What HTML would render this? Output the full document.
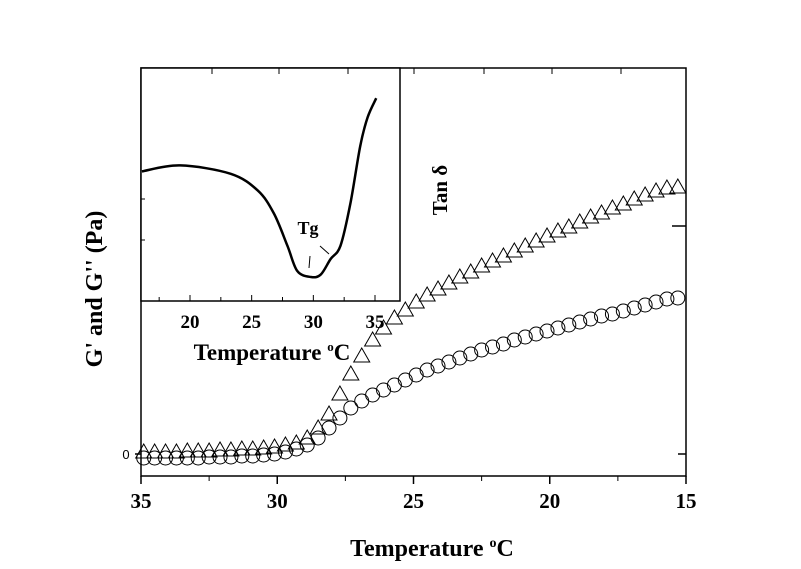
<!DOCTYPE html>
<html><head><meta charset="utf-8"><style>
html,body{margin:0;padding:0;background:#fff}
svg{display:block}
text{font-family:"Liberation Serif",serif;font-weight:bold;fill:#000}
</style></head><body>
<svg id="chart" width="801" height="569" viewBox="0 0 801 569" xmlns="http://www.w3.org/2000/svg">
<g id="main"></g>
<g id="inset"></g>
</svg>
<script>
// Main chart data (temperature in °C, moduli in arbitrary units)
const temps = [34.9,34.5,34.1,33.7,33.3,32.9,32.5,32.1,31.7,31.3,30.9,30.5,30.1,29.7,29.3,28.9,28.5,28.1,27.7,27.3,26.9,26.5,26.1,25.7,25.3,24.9,24.5,24.1,23.7,23.3,22.9,22.5,22.1,21.7,21.3,20.9,20.5,20.1,19.7,19.3,18.9,18.5,18.1,17.7,17.3,16.9,16.5,16.1,15.7,15.3];
const gPrime = [0.2,0.2,0.2,0.2,0.3,0.3,0.3,0.4,0.4,0.5,0.5,0.6,0.7,0.9,1.1,1.6,2.6,4.0,6.0,8.0,9.8,11.4,12.6,13.6,14.4,15.2,15.9,16.5,17.1,17.7,18.2,18.8,19.3,19.8,20.3,20.8,21.3,21.8,22.3,22.7,23.2,23.7,24.1,24.6,25.0,25.5,25.9,26.3,26.6,26.7];
const gDouble = [-0.4,-0.4,-0.4,-0.4,-0.4,-0.4,-0.3,-0.3,-0.3,-0.2,-0.2,-0.1,0.0,0.2,0.5,0.9,1.6,2.6,3.6,4.6,5.3,5.9,6.4,6.9,7.4,7.9,8.4,8.8,9.2,9.6,10.0,10.4,10.7,11.0,11.4,11.7,12.0,12.3,12.6,12.9,13.2,13.5,13.8,14.0,14.3,14.6,14.9,15.2,15.5,15.6];
const xTicks = [35,30,25,20,15];
const xMinor = [32.5,27.5,22.5,17.5];
// Inset data (tan delta, arbitrary units)
const insetT = [16.1,19.2,23.3,25.5,26.8,27.9,28.7,29.8,30.6,31.4,32.2,33.0,33.8,34.4,35.1];
const insetTan = [10.8,11.3,10.6,9.2,7.3,4.6,2.5,2.0,2.2,3.5,4.6,8.1,12.9,15.3,16.9];
const insetTicks = [20,25,30,35];

const NS="http://www.w3.org/2000/svg";
function mk(parent,tag,attrs){const e=document.createElementNS(NS,tag);for(const k in attrs)e.setAttribute(k,attrs[k]);parent.appendChild(e);return e;}
const main=document.getElementById('main'), inset=document.getElementById('inset');
const L=141,R=686,T=68,B=476;
const X=t=>L+(35-t)*(R-L)/20;
const Y=v=>454-v*10;

for(let i=0;i<temps.length;i++){
  const cx=X(temps[i]),cy=Y(gDouble[i]);
  const c=mk(main,'circle',{cx:cx,cy:cy,r:7,fill:'none',stroke:'#000','stroke-width':1});
  
  
}
for(let i=0;i<temps.length;i++){
  const cx=X(temps[i]),cy=Y(gPrime[i]);
  const p=mk(main,'polygon',{points:`${cx-8},${cy+6} ${cx+8},${cy+6} ${cx},${cy-8}`,fill:'none',stroke:'#000','stroke-width':1});
  
  
}
const fr=mk(main,'rect',{x:L,y:T,width:R-L,height:B-T,fill:'none',stroke:'#000','stroke-width':1.5});


xTicks.forEach(t=>{
  mk(main,'line',{x1:X(t),x2:X(t),y1:B,y2:B+8,stroke:'#000','stroke-width':1.5});
  const tx=mk(main,'text',{x:X(t),y:508,'text-anchor':'middle','font-size':21});
  tx.textContent=t;
  
  
});
xMinor.forEach(t=>mk(main,'line',{x1:X(t),x2:X(t),y1:B,y2:B+5,stroke:'#000','stroke-width':1}));
[414,484,552,621].forEach(x=>mk(main,'line',{x1:x,x2:x,y1:T,y2:T+6,stroke:'#000','stroke-width':1}));
mk(main,'line',{x1:L-6,x2:L,y1:454,y2:454,stroke:'#000','stroke-width':1.5});
mk(main,'line',{x1:R-8,x2:R,y1:454,y2:454,stroke:'#000','stroke-width':1.5});
mk(main,'line',{x1:R-14,x2:R,y1:226,y2:226,stroke:'#000','stroke-width':1.5});
const z=mk(main,'text',{x:126,y:459,'text-anchor':'middle','font-size':13,style:'font-family:Liberation Sans,sans-serif;font-weight:normal'});
z.textContent='0';


const xl=mk(main,'text',{x:432,y:556,'text-anchor':'middle','font-size':24});
xl.innerHTML='Temperature <tspan dy="-9" font-size="14">o</tspan><tspan dy="9">C</tspan>';


const yl=mk(main,'text',{x:0,y:0,'text-anchor':'middle','font-size':24,transform:'translate(102,289) rotate(-90)'});
yl.textContent="G' and G'' (Pa)";



// inset
const IL=141,IR=400,IT=68,IB=301;
const IX=t=>190+(t-20)*(375-190)/15;
const IY=v=>301-v*12;
const ifr=mk(inset,'rect',{x:IL,y:IT,width:IR-IL,height:IB-IT,fill:'#fff',stroke:'#000','stroke-width':1.5});


const pts=insetT.map((t,i)=>[IX(t),IY(insetTan[i])]);
let d='M'+pts[0][0]+','+pts[0][1];
for(let i=0;i<pts.length-1;i++){
  const p0=pts[Math.max(0,i-1)],p1=pts[i],p2=pts[i+1],p3=pts[Math.min(pts.length-1,i+2)];
  d+=` C${p1[0]+(p2[0]-p0[0])/6},${p1[1]+(p2[1]-p0[1])/6} ${p2[0]-(p3[0]-p1[0])/6},${p2[1]-(p3[1]-p1[1])/6} ${p2[0]},${p2[1]}`;
}
const cur=mk(inset,'path',{d:d,fill:'none',stroke:'#000','stroke-width':2.5});


insetTicks.forEach(t=>{
  mk(inset,'line',{x1:IX(t),x2:IX(t),y1:IB,y2:IB-6,stroke:'#000','stroke-width':1});
  mk(inset,'line',{x1:IX(t-2.5),x2:IX(t-2.5),y1:IB,y2:IB-4,stroke:'#000','stroke-width':1});
  const tx=mk(inset,'text',{x:IX(t),y:328,'text-anchor':'middle','font-size':19});
  tx.textContent=t;
  
  
});
[212,279,348].forEach(x=>mk(inset,'line',{x1:x,x2:x,y1:IT,y2:IT+6,stroke:'#000','stroke-width':1}));
[199,240].forEach(y=>mk(inset,'line',{x1:IL,x2:IL+4,y1:y,y2:y,stroke:'#000','stroke-width':1}));
const ixl=mk(inset,'text',{x:272,y:360,'text-anchor':'middle','font-size':23});
ixl.innerHTML='Temperature <tspan dy="-9" font-size="13">o</tspan><tspan dy="9">C</tspan>';


const tg=mk(inset,'text',{x:308,y:234,'text-anchor':'middle','font-size':18});
tg.textContent='Tg';


mk(inset,'line',{x1:310,x2:309,y1:256,y2:268,stroke:'#000','stroke-width':1});
mk(inset,'line',{x1:320,x2:329,y1:246,y2:254,stroke:'#000','stroke-width':1});
const tan=mk(main,'text',{x:0,y:0,'text-anchor':'middle','font-size':21,transform:'translate(447,190) rotate(-90)'});
tan.textContent='Tan δ';


</script>
</body></html>
